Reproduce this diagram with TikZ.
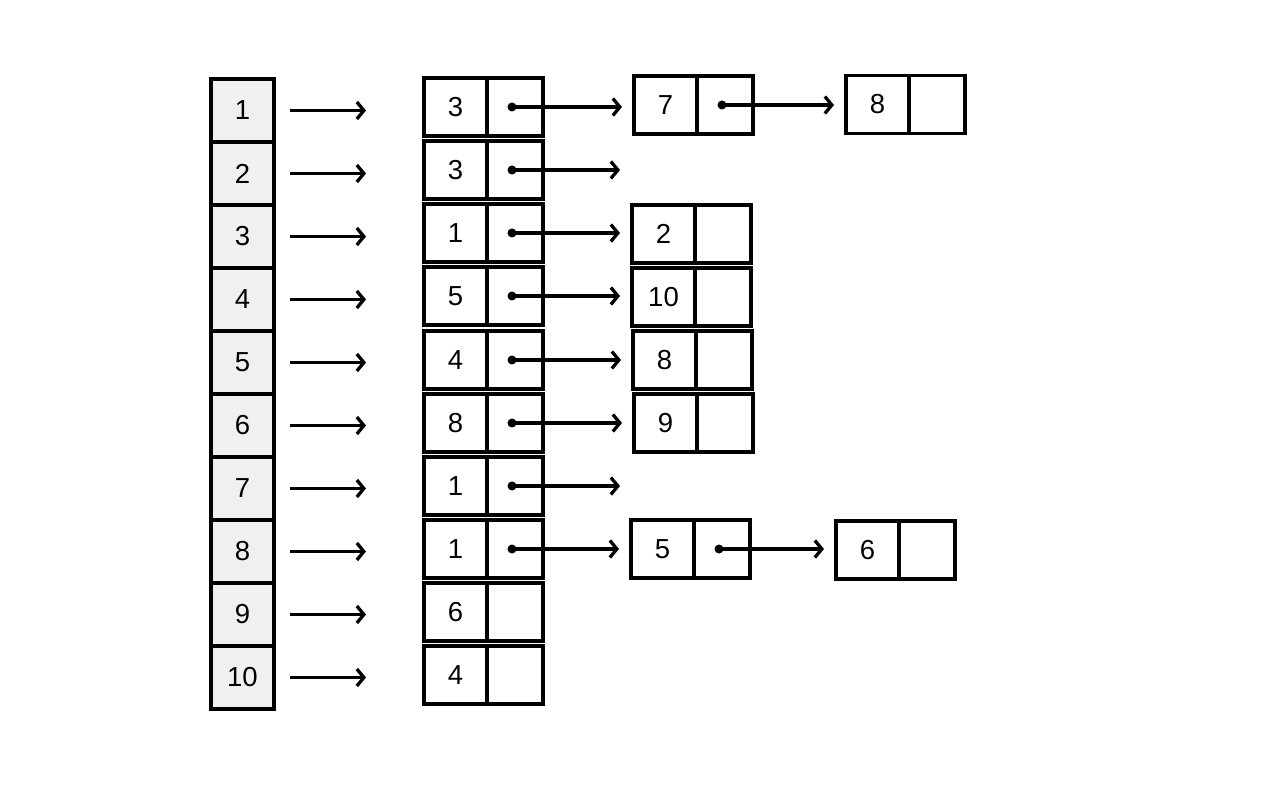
\documentclass[tikz,border=0pt]{standalone}
\usepackage{fontspec}
\setmainfont{Liberation Sans}
\usetikzlibrary{arrows.meta}
\definecolor{idxgray}{HTML}{F0F0F0}
\newcommand\lnode[4]{%
  \node[cell] (#1) at (#2,#3) {#4};
  \node[ptr, anchor=west] (#1p) at (#1.east) {};
}
\begin{document}
\begin{tikzpicture}[x=1pt,y=-1pt,
  txt/.style={font=\fontsize{27.5}{33}\selectfont},
  idx/.style={draw, fill=idxgray, line width=3.3pt, minimum width=63pt, minimum height=63pt, inner sep=0pt, outer sep=0pt, txt},
  cell/.style={draw, line width=3.3pt, minimum width=63pt, minimum height=58pt, inner sep=0pt, outer sep=0pt, txt},
  ptr/.style={draw, line width=3.3pt, minimum width=56pt, minimum height=58pt, inner sep=0pt, outer sep=0pt},
  link/.style={line width=3.3pt, -{Straight Barb[length=7pt,width=17pt]}},
  dot/.style={fill, radius=4.5pt}
  ]
\useasboundingbox (0,0) rectangle (1280,799);
% index column
\foreach \i/\y in {1/110.5,2/173.5,3/236.5,4/299.5,5/362.5,6/425.5,7/488.5,8/551.5,9/614.5,10/677.5}
  \node[idx] (i\i) at (242.5,\y) {\i};
% second column
\lnode{a1}{455.5}{107}{3}
\lnode{a2}{455.5}{170}{3}
\lnode{a3}{455.5}{233}{1}
\lnode{a4}{455.5}{296}{5}
\lnode{a5}{455.5}{360}{4}
\lnode{a6}{455.5}{423}{8}
\lnode{a7}{455.5}{486}{1}
\lnode{a8}{455.5}{549}{1}
\lnode{a9}{455.5}{612}{6}
\lnode{a10}{455.5}{675}{4}
% third column
\lnode{b1}{665.5}{105}{7}
\lnode{b3}{663.5}{234}{2}
\lnode{b4}{663.5}{297}{10}
\lnode{b5}{664.5}{360}{8}
\lnode{b6}{665.5}{423}{9}
\lnode{b8}{662.5}{549}{5}
% fourth column
\lnode{c1}{877.5}{104.5}{8}
\lnode{c8}{867.5}{550}{6}
% index arrows
\foreach \i in {1,...,10}
  \draw[link, shorten <=16pt, shorten >=58pt] (i\i.east) -- (i\i.east -| a\i.west);
% dangling ends
\coordinate (e2) at (620,170);
\coordinate (e7) at (620,486);
% pointer links
\foreach \s/\t in {a1/b1,a3/b3,a4/b4,a5/b5,a6/b6,a8/b8,b1/c1,b8/c8}{
  \fill[dot] ([xshift=-3pt]\s p.center) circle;
  \draw[link, shorten >=12pt] ([xshift=-3pt]\s p.center) -- (\s p.center -| \t.west);
}
\foreach \s/\t in {a2/e2,a7/e7}{
  \fill[dot] ([xshift=-3pt]\s p.center) circle;
  \draw[link] ([xshift=-3pt]\s p.center) -- (\t);
}
\end{tikzpicture}
\end{document}
